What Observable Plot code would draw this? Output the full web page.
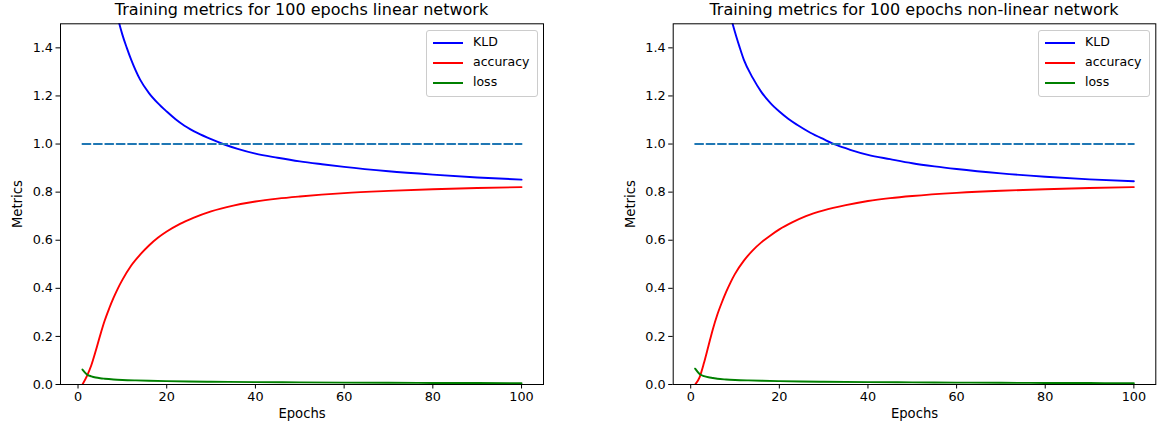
<!DOCTYPE html>
<html><head><meta charset="utf-8">
<script src="https://cdn.jsdelivr.net/npm/d3@7"></script>
<script src="https://cdn.jsdelivr.net/npm/@observablehq/plot@0.6"></script>
<style>
body{margin:0;background:#fff;font-family:"DejaVu Sans",sans-serif;}
#wrap{position:relative;width:1161px;height:432px;overflow:hidden;}
.panel{position:absolute;top:0;}
.title{position:absolute;top:0px;font-size:16px;transform:translateX(-50%);white-space:nowrap;color:#000;}
.legend{position:absolute;border:1px solid #cccccc;border-radius:3px;background:rgba(255,255,255,0.8);font-size:12.5px;color:#000;box-sizing:border-box;}
.swatch{position:absolute;width:30px;height:0;border-top:2px solid;}
.lab{position:absolute;white-space:nowrap;}
</style></head>
<body><div id="wrap"></div>
<script>
// ---- data ----
const xTicks = [0, 20, 40, 60, 80, 100];
const yTicks = [0, 0.2, 0.4, 0.6, 0.8, 1.0, 1.2, 1.4];
const seriesNames = ["KLD", "accuracy", "loss"];
const seriesColors = ["blue", "red", "green"];
const titles = ["Training metrics for 100 epochs linear network", "Training metrics for 100 epochs non-linear network"];
const refEpochs = [1, 100];
const refValue = [1.0, 1.0];

const kldEpochs = [1,2,3,4,5,6,7,8,9,10,11,12,14,16,18,20,22,24,27,30,33,36,40,45,50,55,60,70,80,90,100];
const kldLinear = [3.6,3.0,2.6,2.3,2.07,1.89,1.75,1.63,1.525,1.455,1.4,1.35,1.268,1.212,1.17,1.135,1.103,1.076,1.045,1.02,0.998,0.98,0.96,0.943,0.928,0.916,0.905,0.887,0.873,0.861,0.852];
const kldNonLinear = [3.7,3.1,2.7,2.38,2.13,1.93,1.77,1.64,1.535,1.465,1.405,1.35,1.275,1.215,1.17,1.135,1.105,1.08,1.047,1.02,0.995,0.976,0.955,0.937,0.92,0.907,0.896,0.878,0.864,0.853,0.845];

const accEpochs = [1,2,3,4,5,6,7,8,9,10,12,14,16,18,20,23,26,30,35,40,45,50,60,70,80,90,100];
const accLinear = [0.0,0.035,0.08,0.14,0.205,0.265,0.315,0.36,0.40,0.435,0.495,0.54,0.578,0.61,0.636,0.668,0.693,0.72,0.744,0.761,0.773,0.782,0.796,0.805,0.812,0.817,0.821];
const accNonLinear = [0.0,0.03,0.09,0.16,0.23,0.29,0.34,0.385,0.425,0.46,0.515,0.558,0.592,0.62,0.645,0.675,0.70,0.724,0.746,0.763,0.775,0.784,0.797,0.806,0.812,0.817,0.821];

const lossEpochs = [1,2,3,4,5,6,8,10,13,16,20,25,30,40,50,60,70,80,90,100];
const lossLinear = [0.062,0.042,0.034,0.029,0.026,0.024,0.021,0.019,0.017,0.0155,0.014,0.0125,0.0115,0.010,0.009,0.008,0.007,0.0065,0.006,0.0055];
const lossNonLinear = [0.066,0.044,0.035,0.030,0.027,0.024,0.021,0.019,0.017,0.0155,0.014,0.0125,0.0115,0.010,0.009,0.008,0.007,0.0065,0.006,0.0055];

// ---- build ----
const toRows = (xs, ys) => xs.map((x, i) => ({x, y: ys[i]}));
const panels = [
  {left: 0, width: 580, ml: 60, mr: 37, title: titles[0], tx: 301.5, legend: {x: 426, y: 30, w: 112, h: 67},
   series: [toRows(kldEpochs, kldLinear), toRows(accEpochs, accLinear), toRows(lossEpochs, lossLinear)]},
  {left: 580, width: 581, ml: 92.7, mr: 5.7, title: titles[1], tx: 914, legend: {x: 1038, y: 30, w: 112, h: 67},
   series: [toRows(kldEpochs, kldNonLinear), toRows(accEpochs, accNonLinear), toRows(lossEpochs, lossNonLinear)]}
];
const wrap = document.getElementById("wrap");
for (const p of panels) {
  const chart = Plot.plot({
    width: p.width, height: 432,
    marginLeft: p.ml, marginRight: p.mr, marginTop: 23.3, marginBottom: 48,
    style: {fontFamily: "DejaVu Sans", fontSize: "12.8px", color: "#000", background: "transparent", overflow: "visible"},
    x: {domain: [-3.95, 104.95]},
    y: {domain: [0, 1.5]},
    marks: [
      Plot.axisX(xTicks, {tickSize: 4.5, tickPadding: 3, label: null}),
      Plot.axisX({ticks: [], label: "Epochs", labelAnchor: "center", labelArrow: "none", labelOffset: 33, fontSize: 13.2}),
      Plot.axisY(yTicks, {tickSize: 4.5, tickPadding: 3, tickFormat: d => d.toFixed(1), label: null}),
      Plot.axisY({ticks: [], label: "Metrics", labelAnchor: "center", labelArrow: "none", labelOffset: 48, fontSize: 13.2}),
      ...p.series.map((rows, i) => Plot.line(rows, {x: "x", y: "y", stroke: seriesColors[i], strokeWidth: 1.9, curve: "monotone-x", clip: true})),
      Plot.line(toRows(refEpochs, refValue), {x: "x", y: "y", stroke: "#1f77b4", strokeWidth: 1.9, strokeDasharray: "8,3.4"}),
      Plot.frame({stroke: "#000", strokeWidth: 1})
    ]
  });
  chart.classList.add("panel");
  chart.style.left = p.left + "px";
  wrap.appendChild(chart);
  const t = document.createElement("div");
  t.className = "title"; t.style.left = p.tx + "px"; t.textContent = p.title;
  wrap.appendChild(t);
  const lg = document.createElement("div");
  lg.className = "legend";
  Object.assign(lg.style, {left: p.legend.x + "px", top: p.legend.y + "px", width: p.legend.w + "px", height: p.legend.h + "px"});
  seriesNames.forEach((name, i) => {
    const sw = document.createElement("div");
    sw.className = "swatch";
    Object.assign(sw.style, {left: "6px", top: (11 + i * 20) + "px", borderTopColor: seriesColors[i]});
    lg.appendChild(sw);
    const lb = document.createElement("div");
    lb.className = "lab";
    Object.assign(lb.style, {left: "46px", top: (3 + i * 20) + "px"});
    lb.textContent = name;
    lg.appendChild(lb);
  });
  wrap.appendChild(lg);
}
</script></body></html>
